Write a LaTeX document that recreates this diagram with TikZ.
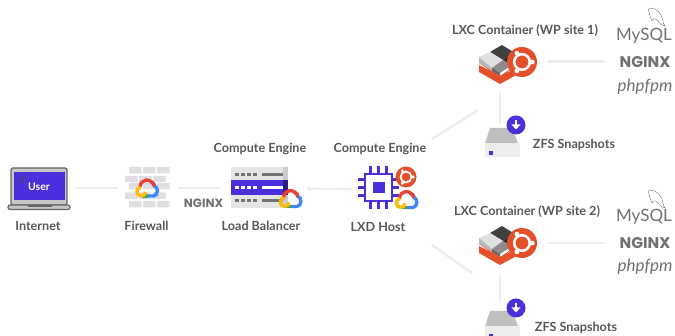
\documentclass[tikz,border=0pt]{standalone}
\usepackage{fontspec}
\setmainfont{Lato}
\newfontfamily\nginxfont{Poppins}
\definecolor{labelgray}{HTML}{53595E}
\definecolor{linkgray}{HTML}{EDEDED}
\definecolor{brickgray}{HTML}{DEDFE2}
\definecolor{logogray}{HTML}{6E7276}
\definecolor{violet}{HTML}{4A2FDC}
\definecolor{ubred}{HTML}{E4502A}
\definecolor{gred}{HTML}{EA4335}
\definecolor{gyellow}{HTML}{FBBC05}
\definecolor{ggreen}{HTML}{34A853}
\definecolor{gblue}{HTML}{4285F4}
\tikzset{
    gcloud/.pic={
        \draw[gblue, line width=3.4pt] (3,-6.5) .. controls (6,-5) and (7,-3.5) .. (7,-2) .. controls (11,-1) and (11,7.5) .. (6,8) -- (0,8);
        \draw[gred, line width=3.4pt] (-7.5,-1) .. controls (-7,-9) and (3,-11) .. (7,-2);
        \draw[ggreen, line width=3.4pt] (0,8) -- (-6,8);
        \draw[gyellow, line width=3.4pt] (-6,8) .. controls (-12,8) and (-12,0) .. (-7,-1) (-6,8) .. controls (-4,8) and (-2,6) .. (-2,4);
    },
    ubuntu/.pic={
        \fill[ubred] (0,0) circle (#1);
        \draw[white, line width=#1*0.17pt] (0,0) circle (#1*0.52);
        \foreach \a in {0,120,240} {
            \fill[white] (\a:#1*0.68) circle (#1*0.16);
        }
    },
    lxcstack/.pic={
        \fill[ubred] (-21,3) -- (-21,10) -- (0,22) -- (22,10) -- (22,3) -- (0,14) -- cycle;
        \fill[black!75] (-10,-10) -- (2,-17) -- (15,-9) -- (3,-2) -- cycle;
        \fill[black!85] (3,-2) -- (15,-9) -- (15,-5) -- (3,2) -- cycle;
        \fill[black!12] (-21,-5) -- (-10,-10) -- (3,-2) -- (-8,6) -- cycle;
        \fill[black!28] (-21,-5) -- (-8,6) -- (-8,9) -- (-21,1) -- cycle;
        \fill[black!45] (-8,6) -- (3,-2) -- (12,3) -- (0,11) -- cycle;
        \fill[black!60] (-8,6) -- (0,11) -- (0,14) -- (-8,9) -- cycle;
        \fill[ubred] (-21,1) -- (0,14) -- (12,6) -- (0,16) -- cycle;
        \pic at (22,0) {ubuntu=15};
    },
    zfsdisk/.pic={
        \fill[black!25] (-10,-12) -- (12,-12) -- (18,3) -- (-15,3) -- cycle;
        \fill[black!7] (-15,3) rectangle (20,17);
        \fill[violet] (-11,11) rectangle (-7,15);
        \fill[violet] (16,-15) circle (9.5);
        \fill[white] (14.6,-20) rectangle (17.4,-15);
        \fill[white] (11.5,-15.5) -- (20.5,-15.5) -- (16,-10.5) -- cycle;
    },
    dolphin/.pic={
        \draw[logogray, line width=.4pt] (-6,-8) .. controls (-7,-11) and (-6,-12) .. (-5,-12) .. controls (2,-12) and (7,-6) .. (8,1) .. controls (8,3) and (9,5) .. (10,6) .. controls (6,5) and (4,3) .. (3,1) .. controls (1,-2) and (-2,-2) .. (-3,1) .. controls (-5,-2) and (-5,-5) .. (-6,-8);
    }
}
\begin{document}
\begin{tikzpicture}[
    x=1pt, y=-1pt,
    title/.style={font=\bfseries\fontsize{12.6}{14}\selectfont, text=labelgray, inner sep=0pt},
    hub/.style={minimum width=#1, inner sep=0pt, outer sep=0pt},
    link/.style={linkgray, line width=2.4pt},
    brick/.style={fill=brickgray, rounded corners=.5pt},
    mysqllogo/.style={font=\fontsize{17}{18}\selectfont, text=logogray, inner sep=0pt},
    nginxlogo/.style={font=\nginxfont\bfseries\fontsize{#1}{16}\selectfont, text=logogray, inner sep=0pt},
    phplogo/.style={font=\itshape\fontsize{17}{18}\selectfont, text=logogray, inner sep=0pt}
]
    \clip (0,0) rectangle (675,336);
    \fill[white] (0,0) rectangle (675,336);

    % Hubs the links run between
    \node[hub=74pt, minimum height=44pt] (laptop) at (38,188) {};
    \node[hub=60pt, minimum height=44pt] (firewall) at (148,188) {};
    \node[hub=86pt, minimum height=44pt] (balancer) at (264,188.5) {};
    \node[hub=81pt, minimum height=44pt] (host) at (391.5,189) {};
    \node[hub=96pt, minimum height=63pt] (lxc1) at (500,61.5) {};
    \node[hub=96pt, minimum height=60pt] (lxc2) at (500,243) {};
    \node[hub=40pt, minimum height=37pt] (disk1) at (500,141.5) {};
    \node[hub=40pt, minimum height=37pt] (disk2) at (500,321.5) {};
    \node[hub=70pt, minimum height=60pt] (stack1) at (640,61.5) {};
    \node[hub=70pt, minimum height=60pt] (stack2) at (640,243) {};
    \coordinate (hostup) at (432,139);
    \coordinate (hostdown) at (432,245);
    \coordinate (lxc1in) at (478,110);
    \coordinate (lxc2in) at (472,273);

    % Links
    \draw[link] (laptop) -- (firewall);
    \draw[link] (firewall) -- (balancer.west |- firewall);
    \draw[link] (balancer) -- (host);
    \draw[link] (hostup) -- (lxc1in);
    \draw[link] (hostdown) -- (lxc2in);
    \draw[link] (lxc1) -- (disk1);
    \draw[link] (lxc2) -- (disk2);
    \draw[link] (lxc1) -- (stack1);
    \draw[link] (lxc2) -- (stack2);

    % Laptop
    \draw[black!60, line width=1.2pt, fill=black!22, rounded corners=2pt] (11,168) rectangle (67,205);
    \fill[violet] (14,172) rectangle (65,200);
    \draw[black!60, line width=1.2pt, fill=black!22, rounded corners=2pt] (8,205) rectangle (70,209.5);
    \fill[black!60] (28,205) rectangle (52,207.5);
    \draw[black!70, line width=.6pt] (18,181) -- (26,175) (19,184) -- (27,178);
    \node[font=\bfseries\fontsize{10.5}{12}\selectfont, text=white] (user) at (39,187) {User};

    % Firewall
    \foreach \x in {129,143,157} {
        \fill[brick] (\x,167) rectangle ++(12.5,6.5);
        \fill[brick] (\x,183) rectangle ++(12.5,6.5);
        \fill[brick] (\x,201) rectangle ++(12.5,6.5);
    }
    \foreach \x in {125,139,153} {
        \fill[brick] (\x,176) rectangle ++(12.5,6);
        \fill[brick] (\x,192.5) rectangle ++(12.5,6.5);
    }
    \pic at (147.5,188) {gcloud};

    % Load balancer
    \fill[black!10] (231,167) rectangle (288,208);
    \fill[black!20] (283,167) rectangle (288,208);
    \fill[violet] (231,180) rectangle (288,195);
    \fill[violet!60!black] (283,180) rectangle (288,195);
    \foreach \x in {235,241,247,253} {
        \fill[black!55] (\x,173) rectangle ++(3.5,3.5);
        \fill[white] (\x,186) rectangle ++(3.5,3.5);
        \fill[black!55] (\x,199) rectangle ++(3.5,3.5);
    }
    \fill[black!55] (262,173) rectangle (283,176.5);
    \fill[white] (262,186) rectangle (283,189.5);
    \fill[black!55] (262,199) rectangle (283,202.5);
    \pic at (291,198.5) {gcloud};

    % LXD host
    \draw[violet, line width=2.6pt, fill=white] (365,174) rectangle (392,201);
    \fill[violet] (373,182) rectangle (385,193);
    \foreach \d in {-8,0,8} {
        \draw[violet, line width=2.6pt] (378.5+\d,166) -- (378.5+\d,174) (378.5+\d,201) -- (378.5+\d,209);
        \draw[violet, line width=2.6pt] (358,187.5+\d) -- (365,187.5+\d) (392,187.5+\d) -- (399,187.5+\d);
    }
    \pic at (406,177) {ubuntu=10.5};
    \pic at (407,199.5) {gcloud};

    % Containers and snapshots
    \pic at (500,62) {lxcstack};
    \pic at (500,243) {lxcstack};
    \pic at (500,140) {zfsdisk};
    \pic at (500,323) {zfsdisk};

    % Labels
    \node[title] (internet) at (38,226) {Internet};
    \node[title] (firewallname) at (146.5,226) {Firewall};
    \node[title] (balancername) at (261,226) {Load Balancer};
    \node[title] (hostname) at (378,227) {LXD Host};
    \node[title] (engine1) at (260,149) {Compute Engine};
    \node[title] (engine2) at (380,149) {Compute Engine};
    \node[title] (site1) at (525,31) {LXC Container (WP site 1)};
    \node[title] (site2) at (527,212) {LXC Container (WP site 2)};
    \node[title] (snap1) at (574,145) {ZFS Snapshots};
    \node[title] (snap2) at (576,328) {ZFS Snapshots};

    % Logos
    \node[nginxlogo=12] (nginxa) at (203.5,203) {NGINX};
    \node[mysqllogo] (mysql1) at (644,36) {MySQL};
    \node[nginxlogo=15.5] (nginx1) at (645,62) {NGINX};
    \node[phplogo] (php1) at (645,87) {phpfpm};
    \node[mysqllogo] (mysql2) at (644,217) {MySQL};
    \node[nginxlogo=15.5] (nginx2) at (645,243) {NGINX};
    \node[phplogo] (php2) at (645,267) {phpfpm};
    \pic at (655,20) {dolphin};
    \pic at (655,202) {dolphin};
\end{tikzpicture}
\end{document}
